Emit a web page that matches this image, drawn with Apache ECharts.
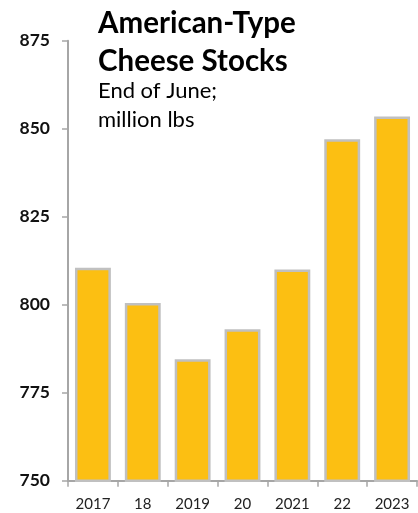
<!DOCTYPE html>
<html><head><meta charset="utf-8">
<script src="https://cdn.jsdelivr.net/npm/echarts@6/dist/echarts.min.js"></script>
<style>html,body{margin:0;padding:0;background:#fff}#c{width:418px;height:513px}</style>
</head><body><div id="c"></div>
<script>
const categories = ['2017','18','2019','20','2021','22','2023'];
const stocks = [810.5, 800.5, 784.5, 793, 810, 847, 853.5];
const yTicks = [750, 775, 800, 825, 850, 875];

const chart = echarts.init(document.getElementById('c'), null, {renderer:'canvas'});
chart.setOption({
  animation:false,
  title:[{
    text:'American-Type\nCheese Stocks',
    left:98, top:4, padding:0,
    textStyle:{fontFamily:'Lato', fontWeight:'bold', fontSize:29.5, lineHeight:38.5, color:'#000'}
  },{
    text:'End of June;\nmillion lbs',
    left:98, top:76, padding:0,
    textStyle:{fontFamily:'Lato', fontWeight:'normal', fontSize:22, lineHeight:29.5, color:'#000'}
  }],
  grid:{left:68, right:1, top:40.7, bottom:32.3, containLabel:false},
  xAxis:{
    type:'category', data:categories,
    axisLine:{lineStyle:{color:'#a6a6a6', width:2}},
    axisTick:{show:true, length:6, lineStyle:{color:'#a6a6a6', width:1.5}},
    axisLabel:{fontFamily:'Lato', fontSize:15, color:'#222', margin:16}
  },
  yAxis:{
    type:'value', min:yTicks[0], max:yTicks[yTicks.length-1], interval:25,
    splitLine:{show:false},
    axisLine:{show:true, lineStyle:{color:'#a6a6a6', width:2}},
    axisTick:{show:true, length:6, lineStyle:{color:'#a6a6a6', width:1.5}},
    axisLabel:{fontFamily:'Lato', fontWeight:'bold', fontSize:17.5, color:'#111', margin:18}
  },
  series:[{
    type:'bar', data:stocks, barCategoryGap:'28%',
    itemStyle:{color:'#FCBF12', borderColor:'#c0c0c0', borderWidth:2.5}
  }]
});
</script></body></html>
